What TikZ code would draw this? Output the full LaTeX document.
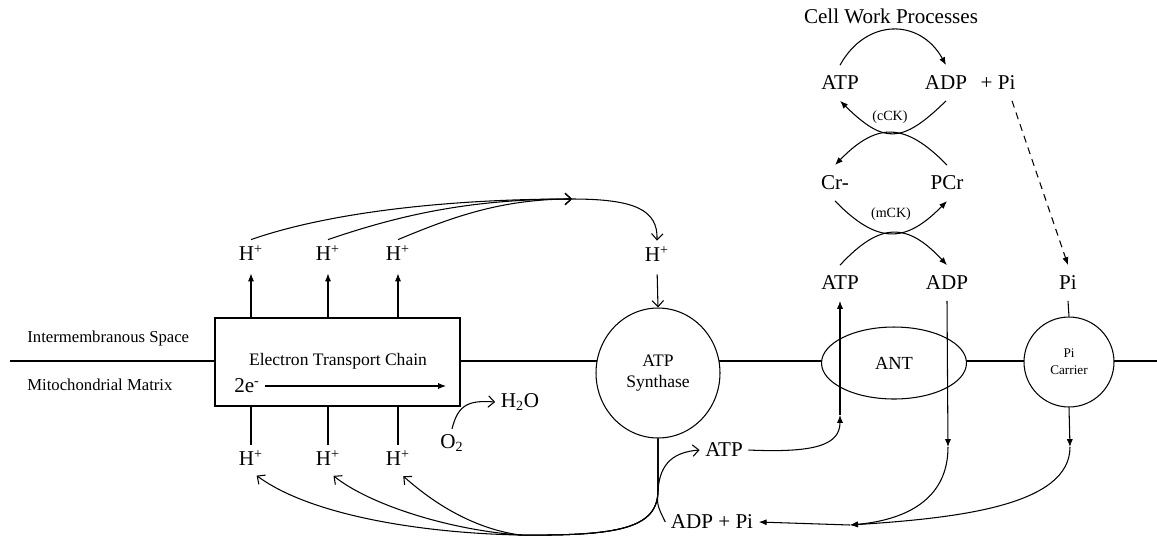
\documentclass[tikz,border=0pt]{standalone}
\usepackage{fontspec}
\setmainfont{Liberation Serif}
\usetikzlibrary{arrows.meta,shapes.geometric,calc}

\begin{document}
\begin{tikzpicture}[
  x=0.02cm, y=-0.02cm,
  every node/.style={font=\fontsize{12}{14}\selectfont},
  mtion/.style={inner sep=3pt},
  mtchem/.style={inner sep=6pt},
  mtnote/.style={font=\fontsize{9.5}{11}\selectfont,anchor=west,inner sep=0pt},
  mtenz/.style={font=\fontsize{8}{9}\selectfont,inner sep=1pt},
  mtmem/.style={line width=1.6pt},
  mtpore/.style={draw,ellipse,line width=0.6pt,fill=white,align=center,inner sep=0pt},
  mtline/.style={line width=0.6pt},
  mtflow/.style={line width=0.6pt,-{Latex[length=4.5pt,width=3.5pt]}},
  mtbarb/.style={line width=0.6pt,-{Straight Barb[length=3.5pt,width=6.5pt]}},
]
  \useasboundingbox (0,0) rectangle (1157,539);

  % membrane
  \draw[mtmem] (10,361) -- (1157,361);
  \node[mtnote] (imsp) at (27,338) {Intermembranous Space};
  \node[mtnote] (mmat) at (27,385) {Mitochondrial Matrix};

  % electron transport chain
  \node[draw,fill=white,line width=1.4pt,minimum width=4.9cm,minimum height=1.76cm] (etc) at (337.5,362) {};
  \node[font=\fontsize{10}{12}\selectfont] (etcname) at (338,361) {Electron Transport Chain};
  \node[mtion] (elec) at (247,386) {2e\textsuperscript{-}};
  \coordinate (elecend) at (446,386);
  \draw[mtflow] (elec.east) -- (elecend);

  % protons pumped across
  \foreach \i/\x in {1/251,2/328,3/398} {
    \node[mtion] (hu\i) at (\x,253) {H\textsuperscript{+}};
    \node[mtion] (hd\i) at (\x,458) {H\textsuperscript{+}};
    \draw[mtflow,shorten >=4pt] (etc.north -| hu\i) -- (hu\i.south);
    \draw[mtline] (etc.south -| hu\i) -- (hd\i.north);
  }

  % oxygen to water
  \node[mtion] (otwo) at (452,443) {O\textsubscript{2}};
  \node[mtion] (water) at (520,402) {H\textsubscript{2}O};
  \draw[mtbarb] (otwo.north) .. controls (458,405) and (468,400) .. (water.west);

  % protons back through the synthase
  \coordinate (hjoin) at (572,199);
  \draw[mtbarb] (hu1.north) .. controls (330,212) and (450,199) .. (hjoin);
  \draw[mtbarb] (hu2.north) .. controls (400,215) and (470,199) .. (hjoin);
  \draw[mtbarb] (hu3.north) .. controls (450,218) and (500,199) .. (hjoin);
  \node[mtion] (hsyn) at (657,254) {H\textsuperscript{+}};
  \draw[mtbarb] (hjoin) .. controls (635,199) and (658,210) .. (hsyn.north);
  \node[mtpore,minimum width=2.48cm,minimum height=2.6cm,font=\fontsize{10}{11.5}\selectfont] (syn) at (658,373) {ATP\\Synthase};
  \draw[mtbarb,shorten <=4pt] (hsyn.south) -- (syn.north);

  % synthase products
  \coordinate (xsyn) at (658,490);
  \coordinate (hbot) at (520,535);
  \node[mtion] (atpm) at (724,450) {ATP};
  \node[mtion] (adpm) at (712,522) {ADP + Pi};
  \draw[mtbarb] (adpm.west) .. controls (657,505) .. (xsyn) .. controls (660,462) and (675,452) .. (atpm.west);
  \draw[mtbarb,shorten >=4pt] (syn.south) -- (xsyn) .. controls (658,528) and (620,536) .. (hbot) .. controls (420,533) and (310,515) .. (hd1.south);
  \draw[mtbarb,shorten >=4pt] (syn.south) -- (xsyn) .. controls (658,528) and (620,536) .. (hbot) .. controls (450,530) and (370,505) .. (hd2.south);
  \draw[mtbarb,shorten >=4pt] (syn.south) -- (xsyn) .. controls (658,528) and (620,536) .. (hbot) .. controls (470,528) and (430,500) .. (hd3.south);

  % carriers
  \node[mtpore,minimum width=2.9cm,minimum height=1.44cm,font=\fontsize{10.5}{12}\selectfont] (ant) at (894,363) {ANT};
  \node[mtpore,minimum width=1.8cm,minimum height=1.8cm,font=\fontsize{7.5}{9.5}\selectfont] (pcar) at (1069,362) {Pi\\Carrier};

  % creatine shuttle
  \node[mtchem] (matp) at (840,283) {ATP};
  \node[mtchem] (madp) at (947,283) {ADP};
  \node[mtchem] (pin) at (1068,283) {Pi};
  \node[mtchem] (crn) at (835,183) {Cr-};
  \node[mtchem] (pcr) at (947,183) {PCr};
  \node[mtchem] (catp) at (840,83) {ATP};
  \node[mtchem] (cadp) at (946,83) {ADP};
  \node[mtchem] (cpi) at (998,83) {+ Pi};
  \node (cwp) at (891,16) {Cell Work Processes};
  \node[mtenz] (cck) at (890,117) {(cCK)};
  \node[mtenz] (mck) at (891,214) {(mCK)};

  \draw[mtflow] (catp.north) .. controls (866,18) and (920,18) .. (cadp.north);
  \draw[mtflow] (cadp.south) .. controls (902,144) and (884,144) .. (catp.south);
  \draw[mtflow] (pcr.north) .. controls (905,122) and (877,122) .. (crn.north);
  \draw[mtflow] (crn.south) .. controls (877,244) and (905,244) .. (pcr.south);
  \draw[mtflow] (matp.north) .. controls (880,222) and (907,222) .. (madp.north);
  \draw[mtflow,dash pattern=on 4pt off 3pt] ($(cpi.south)+(14,0)$) -- (pin.north);

  % exchange through the carriers
  \coordinate (antup) at (840,415);
  \coordinate (antdown) at (948,447);
  \coordinate (pidown) at (1070,447);
  \coordinate (adpjoin) at (850,525);
  \draw[mtflow] (atpm.east) .. controls (815,453) and (840,445) .. (antup);
  \draw[mtflow] (antup) -- (matp.south);
  \draw[mtflow] (madp.south) -- (antdown);
  \draw[mtflow] (antdown) .. controls (948,500) and (905,520) .. (adpjoin);
  \draw[mtflow] (adpjoin) -- (adpm.east);
  \draw[mtline] (pin.south) -- (pcar.north);
  \draw[mtflow] (pcar.south) -- (pidown);
  \draw[mtflow] (pidown) .. controls (1070,505) and (960,518) .. (adpjoin);
\end{tikzpicture}
\end{document}
